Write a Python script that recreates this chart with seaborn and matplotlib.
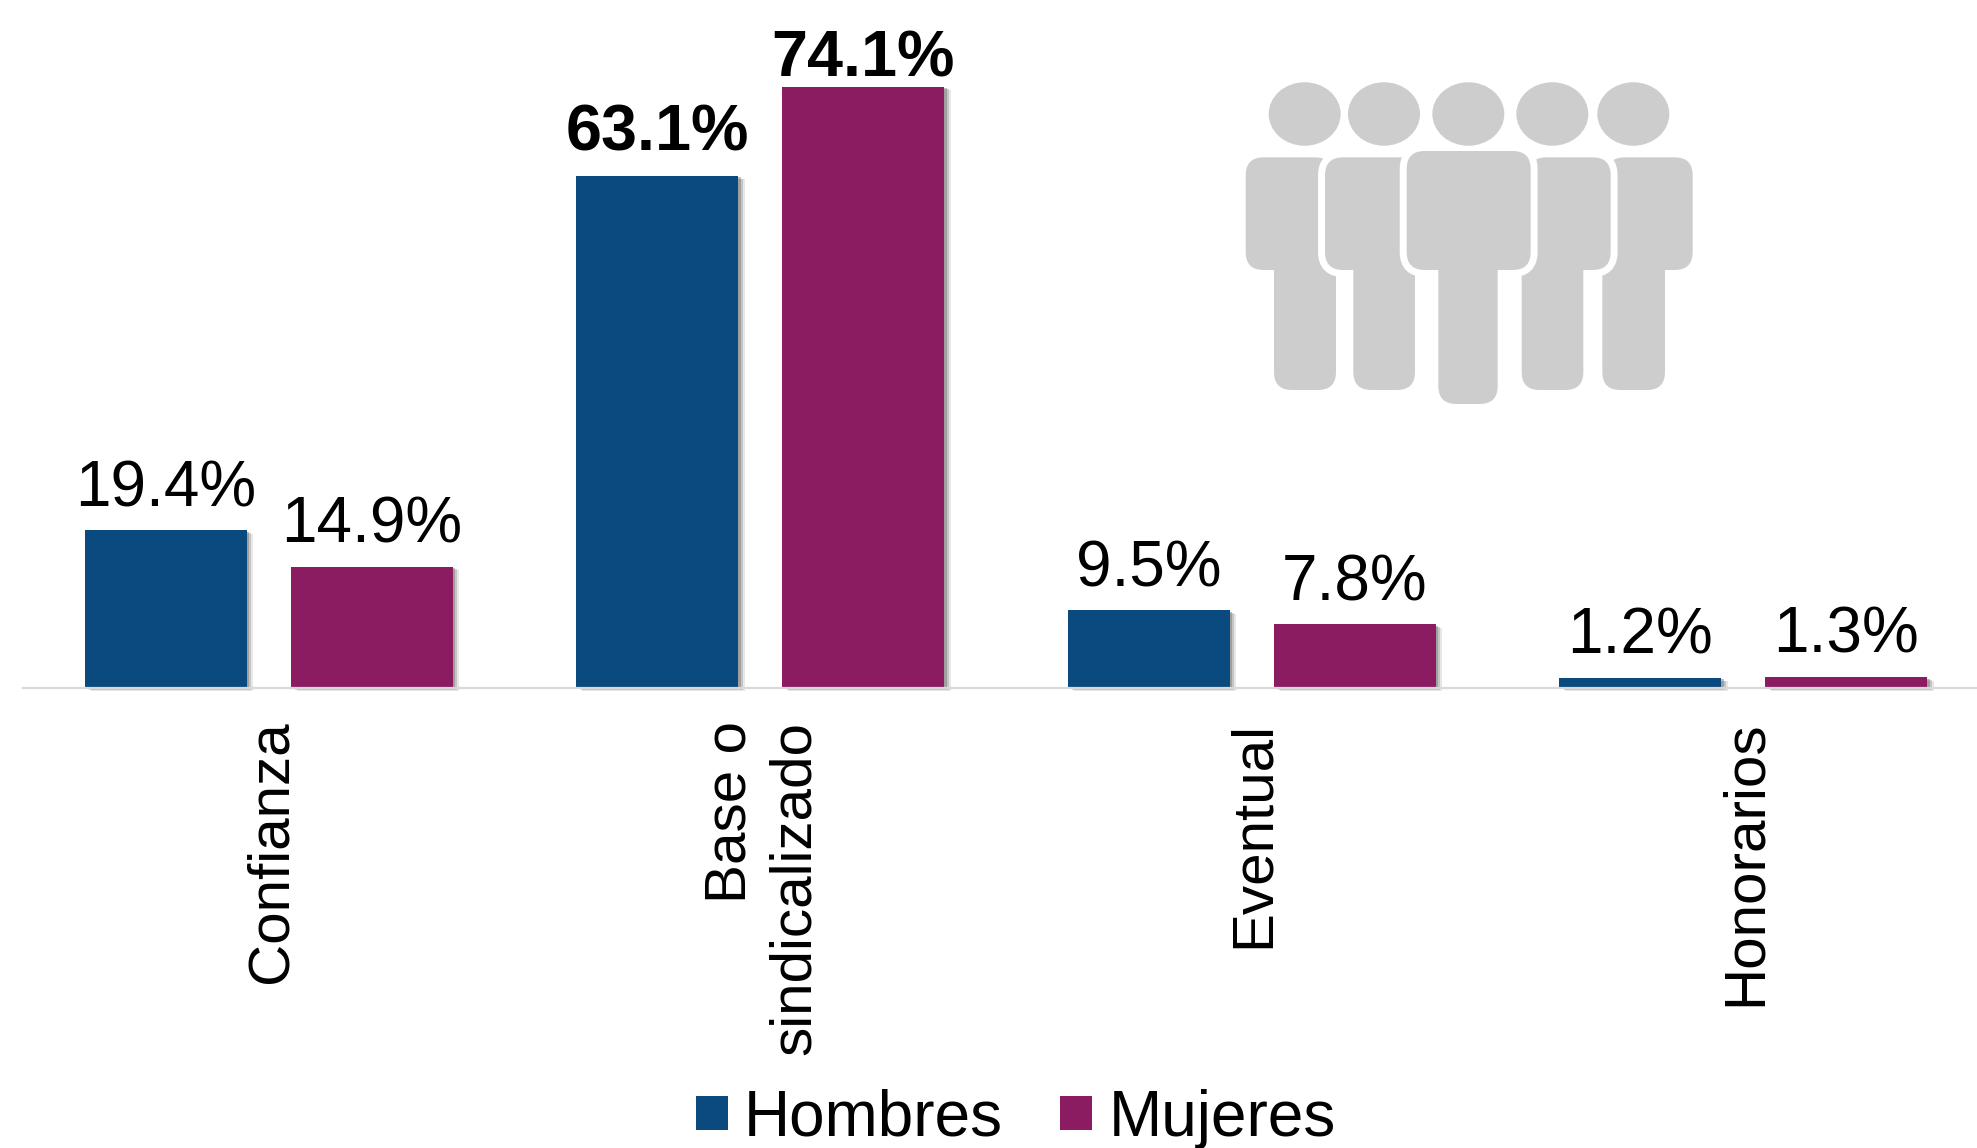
import matplotlib
matplotlib.use("Agg")
import matplotlib.pyplot as plt
import matplotlib.patheffects as pe
from matplotlib.patches import Ellipse, FancyBboxPatch
from matplotlib.transforms import ScaledTranslation
import pandas as pd
import seaborn as sns

categorias = ["Confianza", "Base o\nsindicalizado", "Eventual", "Honorarios"]
hombres = [19.4, 63.1, 9.5, 1.2]
mujeres = [14.9, 74.1, 7.8, 1.3]
series = ["Hombres", "Mujeres"]
colores = ["#0A4A7F", "#8B1C62"]
gris = "#CDCDCD"

W, H = 1977, 1148
sns.set_theme(style="white")
plt.rcParams["font.family"] = ["Liberation Sans", "DejaVu Sans"]

fig = plt.figure(figsize=(W / 100, H / 100), dpi=100, facecolor="white")

# decorative people icon, in reference pixels
bg = fig.add_axes([0, 0, 1, 1], zorder=0)
bg.set_xlim(0, W)
bg.set_ylim(H, 0)
bg.axis("off")


def zx(v):
    return 1200 + v / 3


def zy(v):
    return 50 + v / 3


def box(x0, y0, x1, y1, edge, z):
    r = 18
    bg.add_patch(FancyBboxPatch(
        (x0 + r, y0 + r), x1 - x0 - 2 * r, y1 - y0 - 2 * r,
        boxstyle=f"round,pad={r},rounding_size={r}",
        fc=gris, ec=edge, lw=10 if edge != "none" else 0, zorder=z,
        mutation_aspect=1))


def person(torso, legs, z):
    for edge, dz in (("white", 0), ("none", 0.1)):
        box(zx(torso[0]), zy(torso[1]), zx(torso[2]), zy(torso[3]), edge, z + dz)
        box(zx(legs[0]), zy(torso[3] - 60), zx(legs[1]), zy(legs[2]), edge, z + dz)


person((137, 322, 400, 660), (222, 408, 1020), 2)
person((375, 322, 660, 660), (460, 645, 1020), 3)
person((1220, 322, 1478, 660), (1207, 1395, 1020), 2)
person((985, 322, 1232, 660), (965, 1150, 1020), 3)
person((620, 303, 992, 660), (715, 893, 1062), 4)
for cx in (314, 552, 805, 1057, 1300):
    bg.add_patch(Ellipse((zx(cx), zy(192)), 72, 63.5, fc=gris, ec="none", zorder=5))

# chart
baseline = 687.5
px_per_unit = 8.11
ax = fig.add_axes([23 / W, 1 - baseline / H, 1966 / W, baseline / H], zorder=1)
ax.patch.set_alpha(0)

df = pd.DataFrame({
    "categoria": categorias * 2,
    "valor": hombres + mujeres,
    "serie": [series[0]] * 4 + [series[1]] * 4,
})
sns.barplot(data=df, x="categoria", y="valor", hue="serie", hue_order=series,
            palette=colores, saturation=1, width=0.838, gap=0.212, ax=ax,
            errorbar=None, linewidth=0, edgecolor="none")

ax.set_xlim(-0.5, 3.5)
ax.set_ylim(0, baseline / px_per_unit)
ax.set_xlabel("")
ax.set_ylabel("")
ax.set_yticks([])
for s in ("top", "left", "right"):
    ax.spines[s].set_visible(False)
ax.spines["bottom"].set_color("#D9D9D9")
ax.spines["bottom"].set_linewidth(1.6)
ax.tick_params(axis="x", length=0, pad=24)
for lab in ax.get_xticklabels():
    lab.set_rotation(90)
    lab.set_fontsize(42)
    lab.set_color("black")
    lab.set_ha("center")
    lab.set_va("top")
    lab.set_multialignment("right")
    lab.set_linespacing(1.25)
    lab.set_transform(lab.get_transform() + ScaledTranslation(2.5 / 100, 0, fig.dpi_scale_trans))

for cont, vals in zip(ax.containers, (hombres, mujeres)):
    for bar in cont:
        bar.set_clip_on(False)
        bar.set_path_effects([
            pe.SimplePatchShadow(offset=(4.5, -2.6), shadow_rgbFace="#888888", alpha=0.2),
            pe.SimplePatchShadow(offset=(3.2, -2.0), shadow_rgbFace="#777777", alpha=0.3),
            pe.SimplePatchShadow(offset=(1.8, -1.2), shadow_rgbFace="#666666", alpha=0.4),
            pe.Normal(),
        ])
    texts = ax.bar_label(cont, labels=[f"{v:.1f}%" for v in vals], padding=8,
                         fontsize=46, color="black")
    for t, v in zip(texts, vals):
        t.set_clip_on(False)
        if v > 50:
            t.set_fontweight("bold")
            t.set_fontsize(46.5)
            # the tallest bar's label sits closer to the bar, under the top edge
            t.xyann = (0, -2 if v == max(mujeres) else 9)

sns.move_legend(ax, "lower left", bbox_to_anchor=(696 / W, -1 / H), bbox_transform=fig.transFigure,
                ncol=2, frameon=False, title=None, fontsize=46,
                handlelength=0.5, handleheight=0.45, handletextpad=0.25, columnspacing=0.9,
                borderpad=0, borderaxespad=0, labelcolor="black")
fig.savefig("out.png", dpi=100, facecolor="white")
